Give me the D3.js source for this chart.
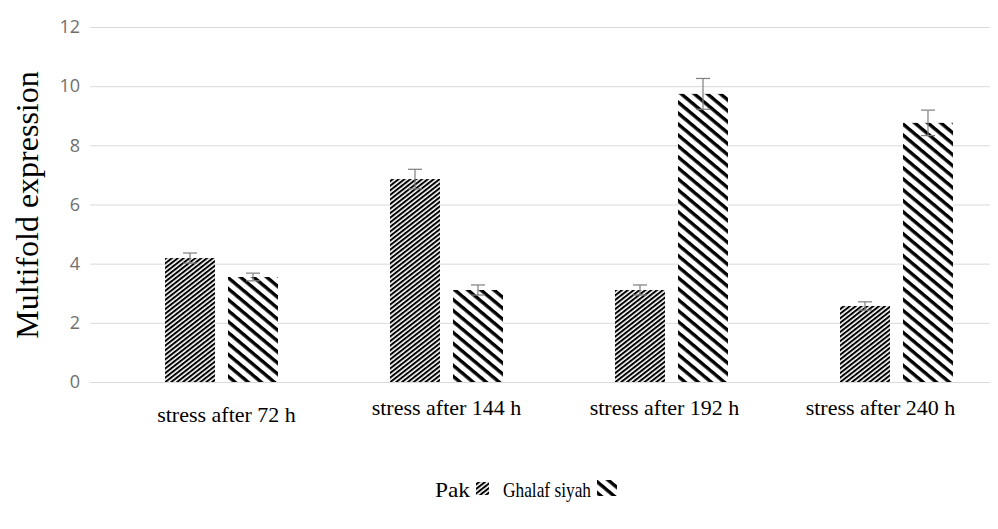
<!DOCTYPE html>
<html>
<head>
<meta charset="utf-8">
<script src="https://cdn.jsdelivr.net/npm/d3@7"></script>
<style>
  body { margin: 0; background: #fff; }
</style>
</head>
<body>
<svg id="viz" width="998" height="529"></svg>
<script>
  // data
  let categories = ["stress after 72 h", "stress after 144 h", "stress after 192 h", "stress after 240 h"];
  let seriesNames = ["Pak", "Ghalaf siyah"];
  let pakValues = [4.19, 6.86, 3.11, 2.57];
  let pakErrors = [0.17, 0.33, 0.17, 0.14];
  let ghalafValues = [3.55, 3.11, 9.74, 8.76];
  let ghalafErrors = [0.13, 0.17, 0.52, 0.43];
  let yTicks = [0, 2, 4, 6, 8, 10, 12];

  let rows = [];
  categories.forEach((c, i) => {
    rows.push({ cat: c, series: "Pak", value: pakValues[i], err: pakErrors[i] });
    rows.push({ cat: c, series: "Ghalaf siyah", value: ghalafValues[i], err: ghalafErrors[i] });
  });

  let svg = d3.select("#viz");
  let defs = svg.append("defs");

  // dense "/" stripes for Pak
  defs.append("pattern")
    .attr("id", "pakPat")
    .attr("patternUnits", "userSpaceOnUse")
    .attr("width", 8).attr("height", 3.6)
    .attr("patternTransform", "rotate(-38)")
    .call(p => {
      p.append("rect").attr("width", 8).attr("height", 3.6).attr("fill", "#fff");
      p.append("rect").attr("width", 8).attr("height", 2.0).attr("fill", "#000");
    });

  // wide "\" stripes for Ghalaf siyah
  defs.append("pattern")
    .attr("id", "ghalafPat")
    .attr("patternUnits", "userSpaceOnUse")
    .attr("width", 12).attr("height", 8.4)
    .attr("patternTransform", "rotate(40)")
    .call(p => {
      p.append("rect").attr("width", 12).attr("height", 8.4).attr("fill", "#fff");
      p.append("rect").attr("width", 12).attr("height", 3.4).attr("fill", "#000");
    });

  let fills = { "Pak": "url(#pakPat)", "Ghalaf siyah": "url(#ghalafPat)" };

  let plotLeft = 90, plotRight = 990;
  let yScale = d3.scaleLinear().domain([0, 12]).range([382, 27]);
  let x0 = d3.scaleBand().domain(categories).range([109, 1009]);
  let x1 = d3.scaleBand().domain(seriesNames).range([56, 169]).paddingInner(0.206);

  // gridlines + y labels
  let yAxis = svg.append("g")
    .attr("transform", `translate(${plotLeft},0)`)
    .call(d3.axisLeft(yScale).tickValues(yTicks).tickSize(-(plotRight - plotLeft)).tickPadding(10));
  yAxis.select(".domain").remove();
  yAxis.selectAll(".tick line").attr("stroke", "#d9d9d9").attr("stroke-width", 1);
  yAxis.selectAll(".tick text")
    .attr("fill", "#6f6f6f")
    .style("font-family", "'Open Sans', 'Liberation Sans', sans-serif")
    .style("font-size", "18px");

  // bars
  let groups = svg.selectAll("g.grp")
    .data(rows)
    .enter()
    .append("g")
    .attr("class", "grp")
    .attr("transform", d => `translate(${x0(d.cat)},0)`);

  groups.append("rect")
    .attr("x", d => x1(d.series))
    .attr("y", d => yScale(d.value))
    .attr("width", x1.bandwidth())
    .attr("height", d => yScale(0) - yScale(d.value))
    .attr("fill", d => fills[d.series]);

  // error bars
  let cap = 7;
  let errColor = "#7f7f7f";
  let cx = d => x1(d.series) + x1.bandwidth() / 2;
  groups.append("line")
    .attr("x1", cx).attr("x2", cx)
    .attr("y1", d => yScale(d.value - d.err))
    .attr("y2", d => yScale(d.value + d.err))
    .attr("stroke", errColor).attr("stroke-width", 1.2);
  groups.append("line")
    .attr("x1", d => cx(d) - cap).attr("x2", d => cx(d) + cap)
    .attr("y1", d => yScale(d.value + d.err))
    .attr("y2", d => yScale(d.value + d.err))
    .attr("stroke", errColor).attr("stroke-width", 1.2);
  groups.append("line")
    .attr("x1", d => cx(d) - cap).attr("x2", d => cx(d) + cap)
    .attr("y1", d => yScale(d.value - d.err))
    .attr("y2", d => yScale(d.value - d.err))
    .attr("stroke", errColor).attr("stroke-width", 1.2);

  // category labels
  let labelDx = [5, 0, -7, -16];
  svg.selectAll("text.cat")
    .data(categories)
    .enter()
    .append("text")
    .attr("class", "cat")
    .attr("x", (d, i) => x0(d) + x0.bandwidth() / 2 + labelDx[i])
    .attr("y", (d, i) => i == 0 ? 422 : 415)
    .attr("text-anchor", "middle")
    .style("font-family", "'Liberation Serif', 'Times New Roman', serif")
    .style("font-size", "22px")
    .attr("fill", "#000")
    .text(d => d);

  // y title
  svg.append("text")
    .attr("transform", "translate(38,205) rotate(-90)")
    .attr("text-anchor", "middle")
    .style("font-family", "'Liberation Serif', 'Times New Roman', serif")
    .style("font-size", "32px")
    .attr("fill", "#000")
    .text("Multifold expression");

  // legend
  let legend = svg.append("g").attr("transform", "translate(435,497)");
  let legendX = [0, 68];
  let legendW = [35, 88];
  seriesNames.forEach((s, i) => {
    legend.append("text")
      .attr("x", legendX[i])
      .attr("y", 0)
      .attr("textLength", legendW[i])
      .attr("lengthAdjust", "spacingAndGlyphs")
      .style("font-family", "'Liberation Serif', 'Times New Roman', serif")
      .style("font-size", "22px")
      .attr("fill", "#000")
      .text(s);
    legend.append("rect")
      .attr("x", legendX[i] + legendW[i] + 6)
      .attr("y", i == 0 ? -15 : -17)
      .attr("width", i == 0 ? 13 : 20)
      .attr("height", i == 0 ? 13 : 16)
      .attr("fill", fills[s]);
  });
</script>
</body>
</html>
